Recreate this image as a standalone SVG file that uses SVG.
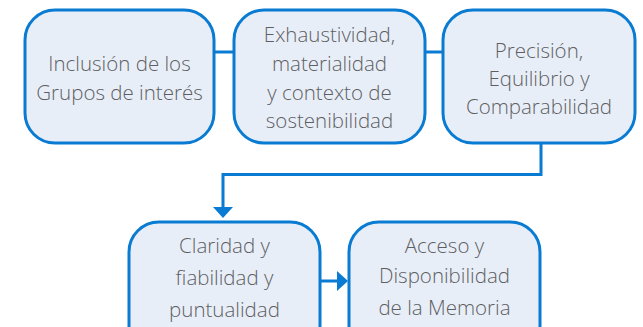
<svg xmlns="http://www.w3.org/2000/svg" width="643" height="327" viewBox="0 0 643 327">
<defs>
<style>
.box{fill:#e8eef8;stroke:#0a7bd2;stroke-width:3}
.lbl{font-family:"Open Sans","Noto Sans",sans-serif;font-weight:300;font-size:20.5px;fill:#5e5f62;text-anchor:middle}
.con{fill:none;stroke:#0a7bd2;stroke-width:3}
.head{fill:#0a7bd2}
</style>
</defs>
<rect width="643" height="327" fill="#ffffff"/>
<g id="connectors">
<line class="con" x1="214" y1="52" x2="234" y2="52"/>
<line class="con" x1="425" y1="52" x2="443" y2="52"/>
<polyline class="con" points="541,143 541,174.5 223,174.5 223,208"/>
<polygon class="head" points="213,207 233,207 223,218"/>
<line class="con" x1="320" y1="281" x2="338" y2="281"/>
<polygon class="head" points="337,271 337,291 348,281"/>
</g>
<g id="n1">
<rect class="box" x="25" y="10" width="189" height="133" rx="30"/>
<text class="lbl" x="119.5" y="71">Inclusión de los</text>
<text class="lbl" x="119.5" y="100">Grupos de interés</text>
</g>
<g id="n2">
<rect class="box" x="234" y="10" width="191" height="133" rx="30"/>
<text class="lbl" x="329.5" y="42">Exhaustividad,</text>
<text class="lbl" x="329.5" y="71">materialidad</text>
<text class="lbl" x="329.5" y="100">y contexto de</text>
<text class="lbl" x="329.5" y="128">sostenibilidad</text>
</g>
<g id="n3">
<rect class="box" x="443" y="10" width="192" height="133" rx="30"/>
<text class="lbl" x="539" y="58">Precisión,</text>
<text class="lbl" x="539" y="86">Equilibrio y</text>
<text class="lbl" x="539" y="114">Comparabilidad</text>
</g>
<g id="n4">
<rect class="box" x="129" y="222" width="191" height="133" rx="30"/>
<text class="lbl" x="224.5" y="253">Claridad y</text>
<text class="lbl" x="224.5" y="285">fiabilidad y</text>
<text class="lbl" x="224.5" y="317">puntualidad</text>
</g>
<g id="n5">
<rect class="box" x="349" y="222" width="191" height="133" rx="30"/>
<text class="lbl" x="444.5" y="253">Acceso y</text>
<text class="lbl" x="444.5" y="283">Disponibilidad</text>
<text class="lbl" x="444.5" y="315">de la Memoria</text>
</g>
</svg>
